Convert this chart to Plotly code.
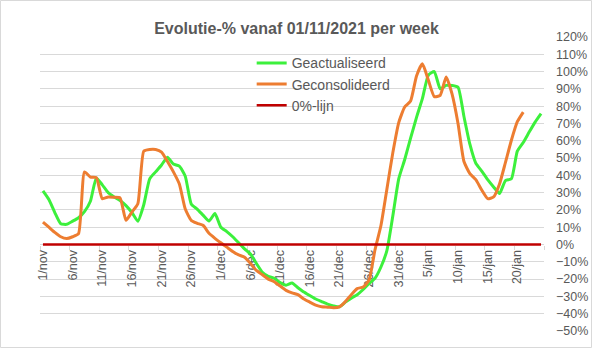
import plotly.graph_objects as go

# Category labels: one per day, 1 november 2021 .. 24 januari 2022
maanden = [("nov", 30), ("dec", 31), ("jan", 24)]
dagen = [f"{d}/{m}" for m, n in maanden for d in range(1, n + 1)]

# Evolution in % relative to 01/11/2021 (weekly totals, per day)
geactualiseerd = [
    31, 26, 18.5, 12, 11.7, 13.5, 15.5, 19, 25, 38.5,
    34.5, 30, 27.5, 25.5, 22.5, 18.5, 13.5, 23, 38, 42,
    46, 50.5, 46.5, 45.3, 39.5, 23.5, 20.5, 17, 13.6, 17.9,
    10, 7.5, 4.5, 1, -2.5, -5.5, -11, -16, -18.4, -19.5,
    -22, -23.5, -22.3, -25, -27.5, -29.5, -31.5, -33, -34.5, -35.5,
    -36, -33.3, -31, -29, -26, -22.5, -19.5, -13, -3.5, 16.5,
    38, 49, 61.5, 73.5, 84.5, 98, 100, 90, 92, 92,
    91, 74, 58, 47, 42.5, 37.5, 33.3, 29.5, 37, 38,
    54, 59, 65, 70.8, 75.7,
]
geconsolideerd = [
    13, 10, 7, 4.5, 3.5, 4.5, 6.3, 42, 39, 38.7,
    26.5, 27.5, 27.3, 27, 14, 18.8, 23.6, 54, 55, 55,
    53.5, 48, 42, 35, 20.5, 14, 12.3, 11.1, 6.5, 3.6,
    1, -1.5, -4, -6, -7.3, -11, -15, -17.5, -20, -21.5,
    -24, -26.5, -28, -29, -31.5, -33.3, -35, -36, -36.2, -36.5,
    -36, -33, -29, -25.5, -24.6, -20.5, -3, 11, 32, 53,
    70.5, 79.5, 83, 97.5, 104.5, 95, 85.5, 86.3, 96.9, 87,
    70, 48, 41, 37.5, 31.5, 26.5, 27.5, 35, 47.5, 60.3,
    71, 76.6,
]
nullijn = [0] * len(dagen)

groen = "#3CF03C"
oranje = "#ED7D31"
rood = "#C00000"
grijs = "#595959"
raster = "#D9D9D9"
font = "Liberation Sans"

fig = go.Figure()
fig.add_trace(go.Scatter(
    x=dagen[:len(geactualiseerd)], y=geactualiseerd, name="Geactualiseerd",
    mode="lines", line=dict(color=groen, width=3, shape="spline", smoothing=0.5),
))
fig.add_trace(go.Scatter(
    x=dagen[:len(geconsolideerd)], y=geconsolideerd, name="Geconsolideerd",
    mode="lines", line=dict(color=oranje, width=3, shape="spline", smoothing=0.5),
))
fig.add_trace(go.Scatter(
    x=dagen, y=nullijn, name="0%-lijn",
    mode="lines", line=dict(color=rood, width=2.5),
))

L, R, T, B = 40, 49, 37, 18
W, H = 593, 349
pw, ph = W - L - R, H - T - B
ymin, ymax = -50, 120

fig.update_layout(
    width=W, height=H,
    margin=dict(l=L, r=R, t=T, b=B, pad=0),
    paper_bgcolor="white", plot_bgcolor="white",
    font=dict(family=font, color=grijs),
    showlegend=True,
    title=dict(
        text="<b>Evolutie-% vanaf 01/11/2021 per week</b>",
        x=0.5, xanchor="center", y=1 - 28.5 / H, yanchor="middle",
        font=dict(family=font, size=16, color=grijs),
    ),
    legend=dict(
        x=0.42, y=0.965, xanchor="left", yanchor="top",
        bgcolor="rgba(0,0,0,0)", borderwidth=0,
        font=dict(family=font, size=14, color=grijs),
        tracegroupgap=0,
    ),
    xaxis=dict(
        type="category", range=[-0.5, len(dagen) - 0.5],
        anchor="free", position=(0 - ymin) / (ymax - ymin),
        tickmode="linear", tick0=0, dtick=5, tickson="boundaries",
        ticks="outside", ticklen=4, tickcolor=raster, tickwidth=1,
        tickangle=-90, tickfont=dict(family=font, size=12.5, color=grijs),
        ticklabelstandoff=2,
        showgrid=False, zeroline=False, showline=False, automargin=False,
        layer="below traces",
    ),
    yaxis=dict(
        range=[ymin, ymax], side="right", tickmode="linear", tick0=0, dtick=10,
        ticksuffix="%", showgrid=True, gridcolor=raster, gridwidth=1,
        zeroline=False, showline=False, ticks="",
        tickfont=dict(family=font, size=12.5, color=grijs),
        ticklabelstandoff=11, automargin=False,
    ),
    shapes=[dict(
        type="rect", xref="paper", yref="paper",
        x0=-(L - 0.5) / pw, x1=1 + (R - 1.5) / pw,
        y0=-(B - 1.5) / ph, y1=1 + (T - 0.5) / ph,
        line=dict(color=raster, width=1), fillcolor="rgba(0,0,0,0)",
        layer="below",
    )],
)

fig.write_html("out.html")
